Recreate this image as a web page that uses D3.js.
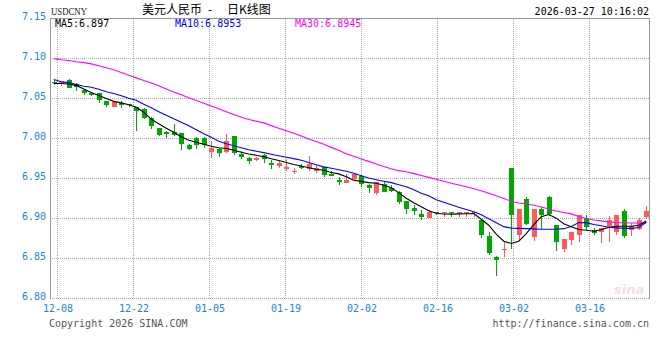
<!DOCTYPE html>
<html>
<head>
<meta charset="utf-8">
<script src="https://cdn.jsdelivr.net/npm/d3@7"></script>
<style>
body { margin: 0; background: #fff; }
text { font-family: "DejaVu Sans Mono", monospace; font-size: 10px; }
</style>
</head>
<body>
<div id="chart"></div>
<script>
let w = 660;
let h = 360;

// trading days shown (all weekdays, 12-08 .. 03-27)
let dates = ["12-08","12-09","12-10","12-11","12-12","12-15","12-16","12-17","12-18","12-19",
    "12-22","12-23","12-24","12-25","12-26","12-29","12-30","12-31","01-01","01-02",
    "01-05","01-06","01-07","01-08","01-09","01-12","01-13","01-14","01-15","01-16",
    "01-19","01-20","01-21","01-22","01-23","01-26","01-27","01-28","01-29","01-30",
    "02-02","02-03","02-04","02-05","02-06","02-09","02-10","02-11","02-12","02-13",
    "02-16","02-17","02-18","02-19","02-20","02-23","02-24","02-25","02-26","02-27",
    "03-02","03-03","03-04","03-05","03-06","03-09","03-10","03-11","03-12","03-13",
    "03-16","03-17","03-18","03-19","03-20","03-23","03-24","03-25","03-26","03-27"];

let open = [7.0705, 7.068, 7.0729, 7.068, 7.0604, 7.057, 7.0563, 7.0466, 7.0395, 7.0438,
    7.0425, 7.0395, 7.0375, 7.025, 7.0125, 7.0079, 7.0079, 7.007, 6.9916, 7.001,
    7.001, 6.9833, 6.9875, 6.9833, 7.0029, 6.9812, 6.9757, 6.9729, 6.979, 6.9695,
    6.9658, 6.962, 6.959, 6.9657, 6.9612, 6.9595, 6.9638, 6.9562, 6.9487, 6.9454,
    6.95, 6.9533, 6.942, 6.9312, 6.9437, 6.9383, 6.9333, 6.9216, 6.9129, 6.9054,
    6.9008, 6.9077, 6.9073, 6.9077, 6.9073, 6.9073, 6.9073, 6.8979, 6.8779, 6.852,
    6.8608, 6.9633, 6.8791, 6.9241, 6.8763, 6.9116, 6.927, 6.8916, 6.8616, 6.8729,
    6.8791, 6.9008, 6.8862, 6.882, 6.8916, 6.8833, 6.9091, 6.8854, 6.8862, 6.902];

let close = [7.0695, 7.072, 7.0633, 7.0645, 7.057, 7.0545, 7.047, 7.0416, 7.0458, 7.0408,
    7.041, 7.0345, 7.026, 7.0154, 7.0041, 7.0054, 7.0045, 6.993, 6.9866, 6.9925,
    6.992, 6.9878, 6.982, 6.9966, 6.982, 6.977, 6.972, 6.9757, 6.974, 6.967,
    6.9695, 6.9645, 6.9597, 6.9633, 6.9675, 6.9633, 6.9533, 6.9537, 6.9462, 6.9487,
    6.9562, 6.9429, 6.9383, 6.945, 6.9341, 6.9341, 6.9208, 6.9116, 6.9095, 6.902,
    6.9079, 6.9073, 6.9077, 6.9073, 6.9077, 6.9077, 6.9077, 6.8791, 6.857, 6.8487,
    6.8616, 6.9041, 6.9116, 6.8929, 6.9116, 6.9041, 6.9062, 6.8708, 6.8741, 6.8833,
    6.9041, 6.8895, 6.882, 6.8875, 6.8987, 6.9041, 6.8783, 6.8904, 6.8979, 6.9091];

let high = [7.073, 7.0725, 7.074, 7.070, 7.0625, 7.058, 7.0575, 7.0475, 7.046, 7.0466,
    7.0435, 7.040, 7.038, 7.0275, 7.013, 7.009, 7.0179, 7.0075, 6.993, 7.0025,
    7.002, 6.997, 6.9885, 7.0054, 7.003, 6.9845, 6.9775, 6.9775, 6.981, 6.9737,
    6.972, 6.974, 6.9637, 6.968, 6.978, 6.9675, 6.9645, 6.9595, 6.9515, 6.9554,
    6.9575, 6.9541, 6.9437, 6.9458, 6.9466, 6.9425, 6.9345, 6.9216, 6.9175, 6.9104,
    6.9104, 6.9083, 6.908, 6.908, 6.908, 6.908, 6.908, 6.8985, 6.8829, 6.853,
    6.872, 6.9633, 6.9116, 6.9266, 6.9116, 6.9141, 6.9283, 6.8916, 6.8741, 6.8833,
    6.9041, 6.9041, 6.8887, 6.8875, 6.9029, 6.9041, 6.9116, 6.8945, 6.9012, 6.9154];

let low = [7.0665, 7.0658, 7.063, 7.0595, 7.055, 7.0533, 7.0445, 7.040, 7.0395, 7.038,
    7.040, 7.0095, 7.024, 7.0116, 7.003, 7.001, 7.003, 6.986, 6.9855, 6.9875,
    6.988, 6.976, 6.977, 6.982, 6.979, 6.975, 6.968, 6.9715, 6.969, 6.9625,
    6.9637, 6.960, 6.956, 6.9625, 6.960, 6.9575, 6.9525, 6.9537, 6.9425, 6.9445,
    6.9463, 6.9395, 6.9316, 6.929, 6.9333, 6.9333, 6.9187, 6.9062, 6.904, 6.8983,
    6.9008, 6.9045, 6.9025, 6.9025, 6.9025, 6.9025, 6.9025, 6.8758, 6.855, 6.828,
    6.852, 6.8616, 6.872, 6.8916, 6.8725, 6.887, 6.9029, 6.8591, 6.8583, 6.8666,
    6.8708, 6.8854, 6.8795, 6.8695, 6.8708, 6.880, 6.8762, 6.8783, 6.8858, 6.900];

let ma5 = [7.0688, 7.0688, 7.0681, 7.0664, 7.0619, 7.0576, 7.0538, 7.0501, 7.0464, 7.0445,
    7.0423, 7.0391, 7.0329, 7.0241, 7.0185, 7.0129, 7.0079, 7.0023, 6.9979, 6.9954,
    6.9929, 6.9904, 6.9885, 6.9875, 6.9854, 6.9829, 6.9806, 6.9791, 6.9771, 6.9746,
    6.9725, 6.9701, 6.9675, 6.9656, 6.9635, 6.9616, 6.9603, 6.9576, 6.9558, 6.9523,
    6.9479, 6.9464, 6.9448, 6.9441, 6.9416, 6.9385, 6.9323, 6.9254, 6.9198, 6.9148,
    6.9098, 6.9066, 6.9056, 6.9055, 6.9058, 6.9060, 6.9063, 6.8991, 6.8916, 6.8804,
    6.8716, 6.8688, 6.8716, 6.8810, 6.8923, 6.9023, 6.9050, 6.9004, 6.8935, 6.8898,
    6.8863, 6.8854, 6.8841, 6.8860, 6.8891, 6.8904, 6.8904, 6.8904, 6.8916, 6.8970];

let ma10 = [7.0738, 7.0710, 7.0698, 7.0675, 7.0654, 7.0641, 7.0616, 7.0585, 7.0563, 7.0535,
    7.0504, 7.0479, 7.0429, 7.0385, 7.0335, 7.0291, 7.0248, 7.0204, 7.0160, 7.0110,
    7.0060, 7.0016, 6.9966, 6.9935, 6.9910, 6.9885, 6.9860, 6.9841, 6.9823, 6.9804,
    6.9785, 6.9766, 6.9748, 6.9729, 6.9700, 6.9673, 6.9645, 6.9629, 6.9610, 6.9591,
    6.9566, 6.9535, 6.9506, 6.9485, 6.9466, 6.9448, 6.9423, 6.9398, 6.9360, 6.9316,
    6.9285, 6.9235, 6.9204, 6.9173, 6.9141, 6.9113, 6.9085, 6.9048, 6.8998, 6.8948,
    6.8898, 6.8880, 6.8876, 6.8874, 6.8870, 6.8866, 6.8866, 6.8866, 6.8873, 6.8900,
    6.8950, 6.8948, 6.8926, 6.8910, 6.8891, 6.8883, 6.8876, 6.8876, 6.8888, 6.8953];

let ma30 = [7.0998, 7.0985, 7.0975, 7.0960, 7.0948, 7.0933, 7.0910, 7.0885, 7.0860, 7.0825,
    7.0791, 7.0758, 7.0725, 7.0695, 7.0659, 7.0618, 7.0580, 7.0546, 7.0510, 7.0475,
    7.0441, 7.0406, 7.0371, 7.0335, 7.0300, 7.0266, 7.0238, 7.0216, 7.0195, 7.0161,
    7.0129, 7.0098, 7.0066, 7.0031, 6.9994, 6.9963, 6.9929, 6.9889, 6.9854, 6.9810,
    6.9779, 6.9745, 6.9714, 6.9681, 6.9651, 6.9623, 6.9598, 6.9584, 6.9561, 6.9538,
    6.9514, 6.9491, 6.9466, 6.9441, 6.9419, 6.9396, 6.9373, 6.9348, 6.9316, 6.9284,
    6.9249, 6.9216, 6.9193, 6.9181, 6.9166, 6.9143, 6.9118, 6.9093, 6.9076, 6.9058,
    6.9025, 6.9000, 6.8981, 6.8970, 6.8958, 6.8950, 6.8946, 6.8944, 6.8944, 6.8945];

let y_ticks = [7.15, 7.10, 7.05, 7.00, 6.95, 6.90, 6.85, 6.80];
let x_tick_dates = ["12-08", "12-22", "01-05", "01-19", "02-02", "02-16", "03-02", "03-16"];
let ma_labels = ["MA5:6.897", "MA10:6.8953", "MA30:6.8945"];

let up_color = "#ff5a5a";
let down_color = "#00a800";
let ma_colors = ["#000000", "#0000ff", "#ff00ff"];
let axis_blue = "#1a86d0";
let frame_gray = "#999";

let plot_left = 50, plot_right = 650, plot_top = 18.5, plot_bottom = 298.5;

let svg = d3.select("#chart")
    .append("svg")
    .attr("width", w)
    .attr("height", h)
    .style("background", "#fff");

let y = d3.scaleLinear()
    .domain([6.80, 7.15])
    .range([plot_bottom, plot_top]);

// candle slots: 80 days across the plot
let x = d3.scaleBand()
    .domain(dates)
    .range([plot_left, plot_right]);

// sina spaces the date gridlines 76px apart, a touch wider than 10 candles
let x_grid = d3.scalePoint()
    .domain(x_tick_dates)
    .range([57.5, 589.5]);

let grid = svg.append("g")
    .attr("stroke", "#aaa")
    .attr("stroke-dasharray", "1,1")
    .attr("shape-rendering", "crispEdges");

grid.selectAll("line.h")
    .data(y_ticks.slice(1))
    .enter()
    .append("line")
    .attr("class", "h")
    .attr("x1", plot_left)
    .attr("x2", plot_right)
    .attr("y1", d => y(d))
    .attr("y2", d => y(d));

grid.selectAll("line.v")
    .data(x_tick_dates)
    .enter()
    .append("line")
    .attr("class", "v")
    .attr("x1", d => x_grid(d))
    .attr("x2", d => x_grid(d))
    .attr("y1", plot_top)
    .attr("y2", plot_bottom);

// frame: solid left, top, right
svg.append("path")
    .attr("d", "M" + (plot_left + 0.5) + "," + plot_bottom + "V" + plot_top + "H" + (plot_right - 0.5) + "V" + plot_bottom)
    .attr("fill", "none")
    .attr("stroke", frame_gray)
    .attr("stroke-width", 1.5)
    .attr("shape-rendering", "crispEdges");

// y axis labels
let y_axis = d3.axisLeft(y)
    .tickValues(y_ticks)
    .tickSize(0)
    .tickPadding(4)
    .tickFormat(d3.format(".2f"));

let ya = svg.append("g")
    .attr("transform", "translate(" + plot_left + ",0)")
    .call(y_axis);
ya.select(".domain").remove();
ya.selectAll("text")
    .attr("fill", axis_blue)
    .attr("dy", "0.05em")
    .style("font-family", "DejaVu Sans Mono")
    .style("font-size", "10px");

// x axis labels
let x_axis = d3.axisBottom(x_grid)
    .tickSize(0)
    .tickPadding(6);

let xa = svg.append("g")
    .attr("transform", "translate(0," + plot_bottom + ")")
    .call(x_axis);
xa.select(".domain").remove();
xa.selectAll("text")
    .attr("fill", axis_blue)
    .style("font-family", "DejaVu Sans Mono")
    .style("font-size", "10px");

// watermark
svg.append("text")
    .attr("x", 614)
    .attr("y", 294)
    .attr("fill", "#f9dcdc")
    .style("font-family", "DejaVu Sans")
    .style("font-size", "13px")
    .style("font-style", "italic")
    .style("font-weight", "bold")
    .text("sina");

// candles
let candles = svg.append("g")
    .attr("shape-rendering", "crispEdges");

let cx = i => Math.round(x(dates[i]) + x.bandwidth() / 2);
let idx = d3.range(dates.length);

candles.selectAll("line")
    .data(idx)
    .enter()
    .append("line")
    .attr("x1", i => cx(i) + 0.5)
    .attr("x2", i => cx(i) + 0.5)
    .attr("y1", i => y(high[i]))
    .attr("y2", i => y(low[i]))
    .attr("stroke", i => close[i] >= open[i] ? up_color : down_color);

candles.selectAll("rect")
    .data(idx)
    .enter()
    .append("rect")
    .attr("x", i => cx(i) - 2)
    .attr("width", 5)
    .attr("y", i => Math.round(y(Math.max(open[i], close[i]))))
    .attr("height", i => Math.max(1, Math.round(Math.abs(y(open[i]) - y(close[i])))))
    .attr("fill", i => close[i] >= open[i] ? up_color : down_color);

// moving averages
let line = d3.line()
    .x((d, i) => x(dates[i]) + x.bandwidth() / 2)
    .y(d => y(d));

[ma30, ma10, ma5].forEach((series, k) => {
    svg.append("path")
        .datum(series)
        .attr("d", line)
        .attr("fill", "none")
        .attr("stroke", ma_colors[2 - k])
        .attr("stroke-width", 1.1);
});

// legend row
let legend_x = [55, 175, 295];
svg.selectAll("text.ma")
    .data(ma_labels)
    .enter()
    .append("text")
    .attr("class", "ma")
    .attr("x", (d, i) => legend_x[i])
    .attr("y", 27)
    .attr("fill", (d, i) => ma_colors[i])
    .text(d => d);

// header
svg.append("text")
    .attr("x", 51)
    .attr("y", 15)
    .attr("fill", "#222")
    .attr("textLength", 36)
    .attr("lengthAdjust", "spacingAndGlyphs")
    .style("font-family", "Liberation Serif")
    .style("font-size", "11px")
    .text("USDCNY");

let title = svg.append("text")
    .attr("y", 14)
    .attr("fill", "#000")
    .style("font-family", "Noto Sans CJK SC")
    .style("font-size", "12px");
title.append("tspan").attr("x", 142).text("美元人民币");
title.append("tspan").attr("x", 208).text("-");
title.append("tspan").attr("x", 227).text("日K线图");

svg.append("text")
    .attr("x", 649)
    .attr("y", 15)
    .attr("text-anchor", "end")
    .attr("fill", "#000")
    .text("2026-03-27 10:16:02");

// footer
svg.append("text")
    .attr("x", 49)
    .attr("y", 327)
    .attr("fill", "#555")
    .text("Copyright 2026 SINA.COM");

svg.append("text")
    .attr("x", 649)
    .attr("y", 327)
    .attr("text-anchor", "end")
    .attr("fill", "#555")
    .text("http://finance.sina.com.cn");
</script>
</body>
</html>
